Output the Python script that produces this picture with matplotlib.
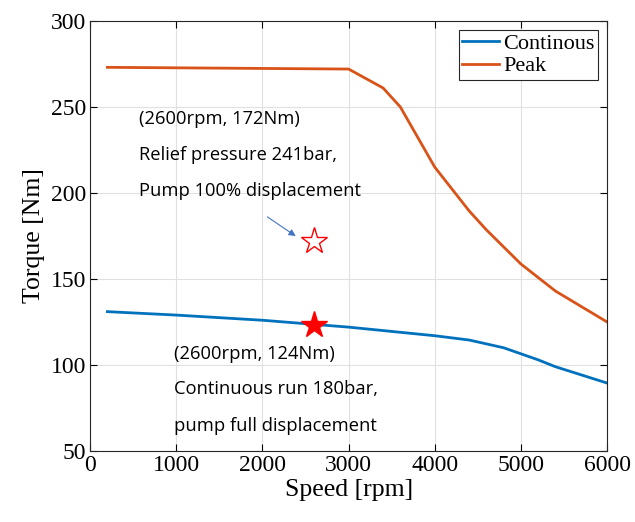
import numpy as np
import matplotlib.pyplot as plt

speed_peak = [200, 3000, 3400, 3600, 4000, 4400, 4600, 5000, 5400, 5600, 6000]
torque_peak = [273, 272, 261, 250, 215, 189.5, 178.5, 158.7, 143, 137, 125]

speed_cont = [200, 1000, 2000, 3000, 4000, 4400, 4800, 5200, 5400, 6000]
torque_cont = [131, 129, 126, 122, 117, 114.5, 110, 103, 99, 89.5]

pt_peak = (2600, 172)
pt_cont = (2600, 123)

blue = (0, 0.447, 0.741)
orange = (0.85, 0.325, 0.098)
serif = 'Liberation Serif'
sans = 'Open Sans'

fig = plt.figure(figsize=(6.35, 5.22), dpi=100)
ax = fig.add_axes([0.142, 0.136, 0.814, 0.824])

ax.plot(speed_cont, torque_cont, color=blue, lw=2, label='Continous')
ax.plot(speed_peak, torque_peak, color=orange, lw=2, label='Peak')

ax.plot(*pt_peak, marker='*', ms=20, mfc='white', mec='red', mew=1, ls='none')
ax.plot(*pt_cont, marker='*', ms=20, color='red', ls='none')

ax.annotate('', xy=(2413, 174), xytext=(2030, 187),
            arrowprops=dict(arrowstyle='-|>', color=(0.27, 0.45, 0.77), lw=0.8,
                            mutation_scale=10))

for y, s in zip([243, 222, 201], ['(2600rpm, 172Nm)', 'Relief pressure 241bar,',
                                  'Pump 100% displacement']):
    ax.text(570, y, s, fontsize=13.2, family=sans, va='center')
for y, s in zip([106.4, 86, 64.5], ['(2600rpm, 124Nm)', 'Continuous run 180bar,',
                                     'pump full displacement']):
    ax.text(975, y, s, fontsize=13.2, family=sans, va='center')

ax.set_xlim(0, 6000)
ax.set_ylim(50, 300)
ax.set_xticks(np.arange(0, 6001, 1000))
ax.set_yticks(np.arange(50, 301, 50))
ax.grid(True, color=(0.88, 0.88, 0.88), lw=0.8)
ax.tick_params(direction='in', length=5, top=True, right=True, labelsize=17, pad=3)
for lab in ax.get_xticklabels() + ax.get_yticklabels():
    lab.set_family(serif)
for sp in ax.spines.values():
    sp.set_color((0.15, 0.15, 0.15))
ax.set_xlabel('Speed [rpm]', fontsize=18.5, family=serif, labelpad=2)
ax.set_ylabel('Torque [Nm]', fontsize=18.5, family=serif, labelpad=4)

leg = ax.legend(loc='upper right', prop={'family': serif, 'size': 16}, fancybox=False,
                edgecolor=(0.15, 0.15, 0.15), framealpha=1, borderpad=0.15,
                handlelength=1.65, handletextpad=0.2, labelspacing=0.1,
                borderaxespad=0.4)
leg.get_frame().set_linewidth(0.8)

fig.savefig('out.png', dpi=100)
